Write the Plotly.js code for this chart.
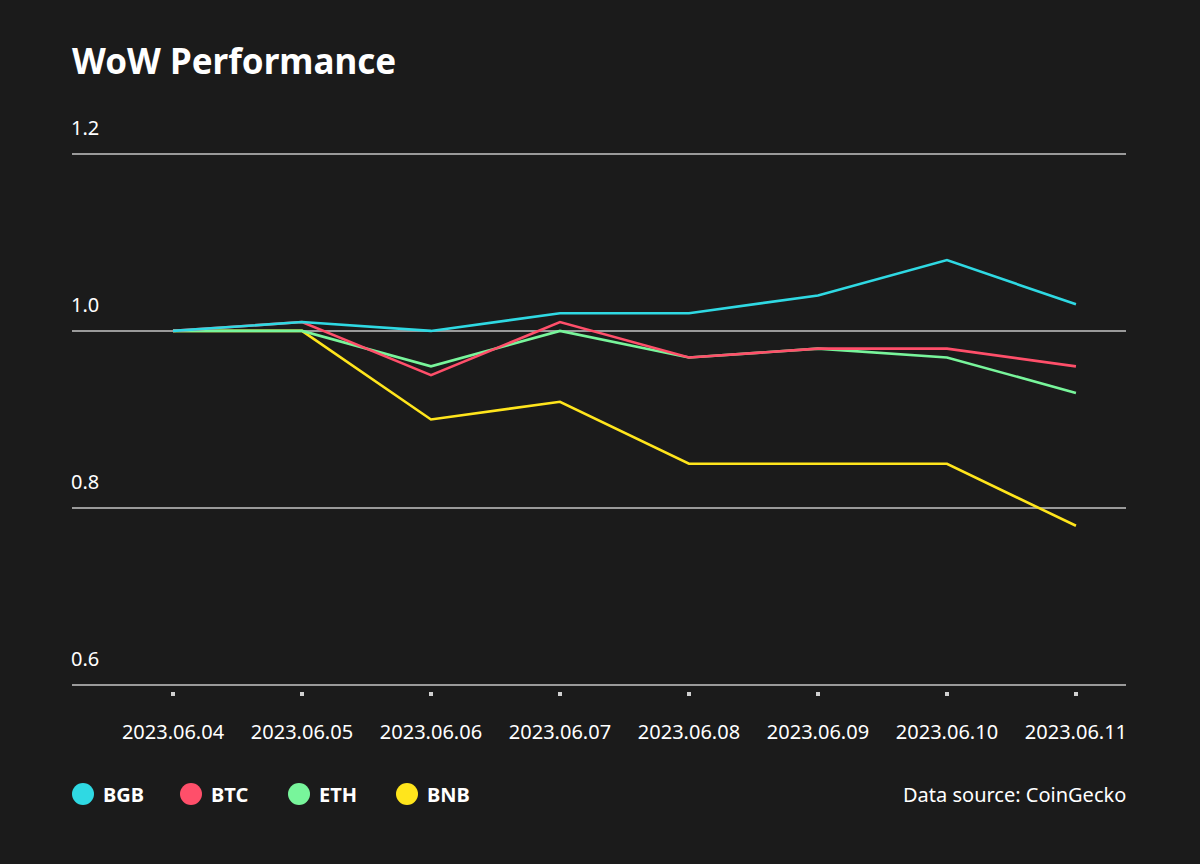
<!DOCTYPE html>
<html>
<head>
<meta charset="utf-8">
<script src="https://cdn.plot.ly/plotly-3.0.1.min.js"></script>
<style>
  html, body { margin: 0; padding: 0; background: #1b1b1b; }
  #chart { width: 1200px; height: 864px; }
</style>
</head>
<body>
<div id="chart"></div>
<script>
const dates = ["2023.06.04","2023.06.05","2023.06.06","2023.06.07","2023.06.08","2023.06.09","2023.06.10","2023.06.11"];
const seriesNames = ["BGB","BTC","ETH","BNB"];
const seriesColors = ["#2fd9e3","#ff4f6a","#78f59b","#ffe51c"];
const bgb = [1.00, 1.01, 1.00, 1.02, 1.02, 1.04, 1.08, 1.03];
const btc = [1.00, 1.01, 0.95, 1.01, 0.97, 0.98, 0.98, 0.96];
const eth = [1.00, 1.00, 0.96, 1.00, 0.97, 0.98, 0.97, 0.93];
const bnb = [1.00, 1.00, 0.90, 0.92, 0.85, 0.85, 0.85, 0.78];
const yTicks = [0.6, 0.8, 1.0, 1.2];
const yTickText = ["0.6", "0.8", "1.0", "1.2"];
const sourceText = "Data source: CoinGecko";

const values = [bgb, btc, eth, bnb];
const traces = [];
// draw in reverse so BGB is on top
for (let i = values.length - 1; i >= 0; i--) {
  traces.push({
    type: "scatter", mode: "lines",
    x: dates.map((d, k) => k), y: values[i], name: seriesNames[i],
    line: { color: seriesColors[i], width: 2.6 },
    showlegend: false, hoverinfo: "skip"
  });
}

const font = "'Noto Sans', 'Open Sans', sans-serif";
const shapes = [];
const annotations = [];
const legendX0 = 72, legendStep = 108, legendY = 794;
seriesNames.forEach((n, i) => {
  const cx = legendX0 + 11 + i * legendStep;
  shapes.push({
    type: "circle", xref: "paper", yref: "paper", layer: "above",
    x0: 0, x1: 0, y0: 0, y1: 0, line: { width: 0 }, fillcolor: seriesColors[i],
    _px: [cx - 11, cx + 11]
  });
  annotations.push({
    text: "<b>" + n + "</b>", showarrow: false, xref: "paper", yref: "paper",
    xanchor: "left", yanchor: "middle", x: 0, y: 0, _px: [cx + 18, legendY],
    font: { family: font, size: 20, color: "#ffffff" }
  });
});
annotations.push({
  text: sourceText, showarrow: false, xref: "paper", yref: "paper",
  xanchor: "right", yanchor: "middle", x: 0, y: 0, _px: [1128, legendY],
  font: { family: font, size: 20, color: "#ffffff" }
});

// layout geometry
const W = 1200, H = 864;
const mL = 72, mR = 74, mT = 152, mB = 173;
const plotW = W - mL - mR, plotH = H - mT - mB;
const pxToPaperX = px => (px - mL) / plotW;
const pxToPaperY = py => (H - mB - py) / plotH;

shapes.forEach(s => {
  s.x0 = pxToPaperX(s._px[0]); s.x1 = pxToPaperX(s._px[1]);
  s.y0 = pxToPaperY(legendY + 11); s.y1 = pxToPaperY(legendY - 11);
  delete s._px;
});
annotations.forEach(a => {
  a.x = pxToPaperX(a._px[0]); a.y = pxToPaperY(a._px[1]);
  delete a._px;
});

const layout = {
  width: W, height: H,
  paper_bgcolor: "#1b1b1b", plot_bgcolor: "#1b1b1b",
  margin: { l: mL, r: mR, t: mT, b: mB, pad: 0 },
  showlegend: false,
  title: {
    text: "<b>WoW Performance</b>", x: 0, xref: "paper", xanchor: "left",
    y: 1 - 62 / H, yref: "container", yanchor: "middle",
    font: { family: font, size: 35, color: "#ffffff" }
  },
  xaxis: {
    type: "linear", range: [-0.783, 7.388],
    tickmode: "array", tickvals: dates.map((d, k) => k), ticktext: dates,
    showgrid: false, zeroline: false, showline: false,
    anchor: "free", position: 0,
    ticks: "outside", ticklen: 4, tickwidth: 4, tickcolor: "#d0d0d0",
    tickfont: { family: font, size: 20, color: "#ffffff" },
    ticklabelstandoff: 19
  },
  yaxis: {
    range: [0.598, 1.202], domain: [4 / (H - mT - mB), 1],
    tickmode: "array", tickvals: yTicks, ticktext: yTickText,
    showgrid: true, gridcolor: "#9a9a9a", gridwidth: 1.5,
    zeroline: false, showline: false, ticks: "",
    ticklabelposition: "inside top",
    ticklabeloverflow: "allow",
    ticklabelshift: -12,
    ticklabelstandoff: -4,
    tickfont: { family: font, size: 20, color: "#ffffff" }
  },
  shapes: shapes,
  annotations: annotations
};

Plotly.newPlot("chart", traces, layout, { displayModeBar: false, staticPlot: true });
</script>
</body>
</html>
